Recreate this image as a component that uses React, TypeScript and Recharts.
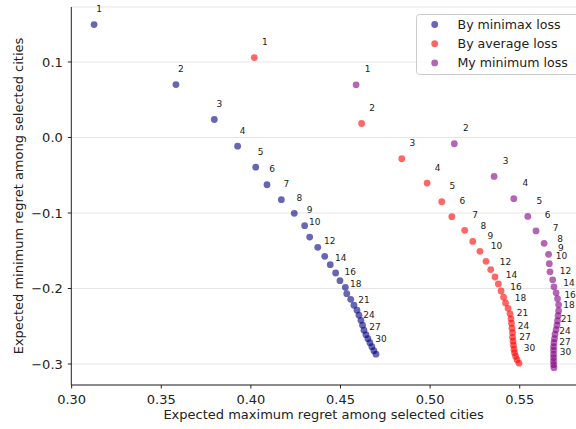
import { CartesianGrid, Label, Legend, ReferenceDot, Scatter, ScatterChart, XAxis, YAxis } from 'recharts';

const cities = [1, 2, 3, 4, 5, 6, 7, 8, 9, 10, 11, 12, 13, 14, 15, 16, 17, 18, 19, 20, 21, 22, 23, 24, 25, 26, 27, 28, 29, 30];
const labeledCities = [1, 2, 3, 4, 5, 6, 7, 8, 9, 10, 12, 14, 16, 18, 21, 24, 27, 30];

const minimaxX = [0.3125, 0.3582, 0.3796, 0.3926, 0.4027, 0.409, 0.417, 0.4242, 0.43, 0.4328, 0.4373, 0.4412, 0.4443, 0.4473, 0.4497, 0.4527, 0.4535, 0.4557, 0.4575, 0.4592, 0.4603, 0.4614, 0.4623, 0.4631, 0.4642, 0.4653, 0.4664, 0.4675, 0.4686, 0.4698];
const minimaxY = [0.1495, 0.0701, 0.0238, -0.0115, -0.0393, -0.0626, -0.0824, -0.1005, -0.1168, -0.1319, -0.1455, -0.1574, -0.1684, -0.1795, -0.1896, -0.1984, -0.2068, -0.2143, -0.2222, -0.2288, -0.2354, -0.2421, -0.2487, -0.2553, -0.2612, -0.2665, -0.2718, -0.2771, -0.2824, -0.287];

const averageX = [0.4019, 0.4618, 0.4842, 0.4983, 0.5065, 0.5121, 0.5193, 0.5238, 0.5278, 0.5312, 0.5338, 0.5362, 0.5381, 0.5396, 0.541, 0.5421, 0.5435, 0.5446, 0.5451, 0.5454, 0.5457, 0.546, 0.546, 0.5463, 0.5465, 0.5468, 0.5471, 0.5477, 0.5485, 0.5496];
const averageY = [0.1058, 0.0185, -0.0282, -0.0604, -0.0851, -0.1049, -0.123, -0.1376, -0.1508, -0.164, -0.175, -0.1848, -0.194, -0.2033, -0.2116, -0.2192, -0.2262, -0.2335, -0.2401, -0.246, -0.2526, -0.2586, -0.2646, -0.2698, -0.2751, -0.2804, -0.2851, -0.2897, -0.2943, -0.2989];

const myMinX = [0.4587, 0.5135, 0.5357, 0.5467, 0.5545, 0.5591, 0.5636, 0.5661, 0.5665, 0.5669, 0.5684, 0.5691, 0.5703, 0.5711, 0.5717, 0.5717, 0.5714, 0.5711, 0.5708, 0.5703, 0.5697, 0.5694, 0.5691, 0.5689, 0.5689, 0.5689, 0.5689, 0.5689, 0.5689, 0.5691];
const myMinY = [0.0697, -0.0083, -0.0516, -0.0811, -0.1045, -0.1237, -0.1402, -0.1548, -0.1671, -0.1779, -0.1885, -0.1978, -0.2057, -0.2136, -0.2216, -0.2295, -0.2361, -0.2427, -0.2487, -0.2546, -0.2606, -0.2665, -0.2718, -0.2771, -0.2817, -0.287, -0.2917, -0.2963, -0.3009, -0.3049];

const xTicks = [0.3, 0.35, 0.4, 0.45, 0.5, 0.55];
const yTicks = [-0.3, -0.2, -0.1, 0, 0.1];

const FONT = '"DejaVu Sans", sans-serif';

const toPoints = (xs: number[], ys: number[]) =>
  cities.map((k, i) => ({ x: xs[i], y: ys[i], k }));

const series = [
  { name: 'By minimax loss', color: 'navy', labelDx: 5, data: toPoints(minimaxX, minimaxY) },
  { name: 'By average loss', color: 'red', labelDx: 10.5, data: toPoints(averageX, averageY) },
  { name: 'My minimum loss', color: 'purple', labelDx: 11.5, data: toPoints(myMinX, myMinY) },
];

const dot = (color: string) => (p: any) => (
  <circle cx={p.cx} cy={p.cy} r={3.4} fill={color} fillOpacity={0.6} />
);

const formatY = (v: number) => (v < 0 ? '\u2212' : '') + Math.abs(v).toFixed(1);

// legend drawn as svg so the text lands where matplotlib put it
const LegendBox = () => (
  <svg width={175} height={62} style={{ display: 'block', overflow: 'visible' }}>
    <rect x={0.5} y={0.5} width={173} height={60} rx={3} fill="rgba(255,255,255,0.8)" stroke="#cccccc" />
    {series.map((s, i) => (
      <g key={s.name}>
        <circle cx={18.7} cy={10.5 + i * 19.2} r={3.4} fill={s.color} fillOpacity={0.6} />
        <text x={41.5} y={10.5 + i * 19.2} dominantBaseline="central" fontSize={12.6} fontFamily={FONT} fill="#222">
          {s.name}
        </text>
      </g>
    ))}
  </svg>
);

export default function App() {
  return (
    <div style={{ position: 'absolute', left: 0, top: 0, width: 576, height: 429, fontFamily: FONT }}>
      <ScatterChart width={576} height={429} margin={{ top: 7, right: 0, bottom: 0, left: 0 }}>
        <CartesianGrid vertical={false} stroke="#e6e6e6" strokeWidth={1} />
        <XAxis
          dataKey="x"
          type="number"
          domain={[0.2998, 0.5814]}
          ticks={xTicks}
          height={44}
          tickFormatter={(v: number) => v.toFixed(2)}
          tick={{ fontSize: 13, fill: '#222', fontFamily: FONT }}
          tickSize={3.5}
          tickMargin={6.5}
          stroke="#222"
        >
          <Label
            content={({ viewBox }: any) => (
              <text
                x={viewBox.x + viewBox.width / 2}
                y={419}
                textAnchor="middle"
                fontSize={13}
                fontFamily={FONT}
                fill="#222"
              >
                Expected maximum regret among selected cities
              </text>
            )}
          />
        </XAxis>
        <YAxis
          dataKey="y"
          type="number"
          domain={[-0.3278, 0.1728]}
          ticks={yTicks}
          width={71.3}
          tickFormatter={formatY}
          tick={{ fontSize: 13, fill: '#222', fontFamily: FONT }}
          tickSize={3.5}
          tickMargin={5}
          stroke="#222"
        >
          <Label
            content={({ viewBox }: any) => {
              const cy = viewBox.y + viewBox.height / 2;
              return (
                <text
                  x={18}
                  y={cy}
                  transform={`rotate(-90 18 ${cy})`}
                  textAnchor="middle"
                  dominantBaseline="central"
                  fontSize={13}
                  fontFamily={FONT}
                  fill="#222"
                >
                  Expected minimum regret among selected cities
                </text>
              );
            }}
          />
        </YAxis>
        <Legend
          layout="vertical"
          align="center"
          verticalAlign="middle"
          wrapperStyle={{ top: 13.5, left: 416, width: 160, height: 62, overflow: 'hidden' }}
          content={() => <LegendBox />}
        />
        {series.map((s) => (
          <Scatter key={s.name} name={s.name} data={s.data} shape={dot(s.color)} isAnimationActive={false} />
        ))}
        {series.flatMap((s) =>
          s.data
            .filter((d) => labeledCities.includes(d.k))
            .map((d) => (
              <ReferenceDot
                key={s.name + d.k}
                x={d.x}
                y={d.y}
                r={0}
                ifOverflow="visible"
                fill="none"
                stroke="none"
                label={{
                  content: ({ viewBox }: any) => (
                    <text
                      x={viewBox.x + viewBox.width / 2 + s.labelDx}
                      y={viewBox.y + viewBox.height / 2 - 12.5}
                      textAnchor="middle"
                      fontSize={9}
                      fontFamily={FONT}
                      fill="#222"
                    >
                      {d.k}
                    </text>
                  ),
                }}
              />
            )),
        )}
      </ScatterChart>
    </div>
  );
}
